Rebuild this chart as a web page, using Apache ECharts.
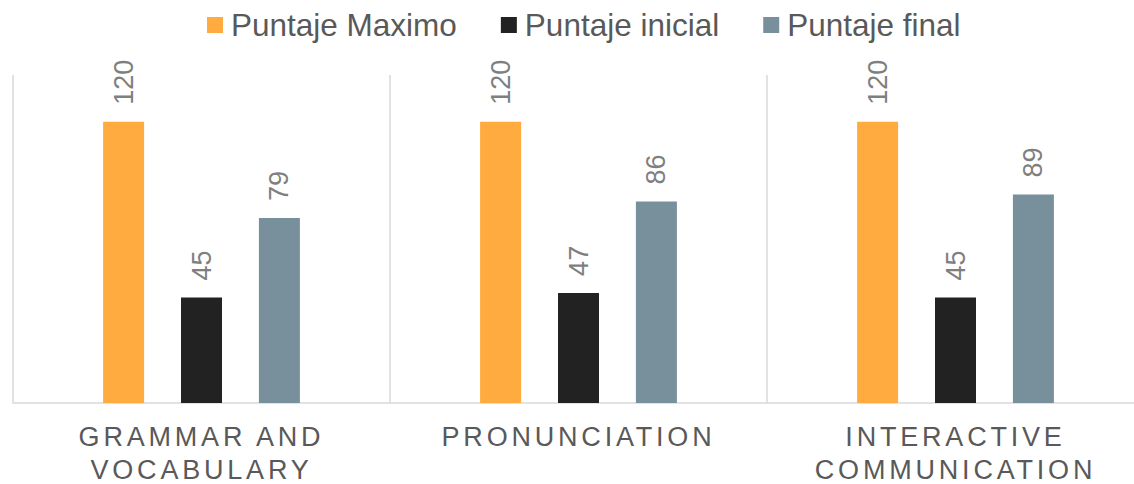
<!DOCTYPE html>
<html><head><meta charset="utf-8">
<script src="https://cdn.jsdelivr.net/npm/echarts@6/dist/echarts.min.js"></script>
<style>html,body{margin:0;padding:0;background:#fff}#c{width:1134px;height:484px}</style>
</head><body><div id="c"></div>
<script>
const categories = ['GRAMMAR AND VOCABULARY', 'PRONUNCIATION', 'INTERACTIVE COMMUNICATION'];
const seriesNames = ['Puntaje Maximo', 'Puntaje inicial', 'Puntaje final'];
const puntajeMaximo = [120, 120, 120];
const puntajeInicial = [45, 47, 45];
const puntajeFinal = [79, 86, 89];
const colors = ['#FFAB40', '#222222', '#78909C'];
const seriesData = [puntajeMaximo, puntajeInicial, puntajeFinal];

const chart = echarts.init(document.getElementById('c'), null, {renderer: 'svg'});
const catLines = [];
categories.forEach(c => c.replace(/ (\S+)$/, '\n$1').split('\n').forEach(l => catLines.push(l)));

chart.setOption({
  animation: false,
  legend: {
    left: 202, top: 4,
    itemWidth: 16, itemHeight: 16, icon: 'rect', itemGap: 44,
    textStyle: {fontSize: 31.5, color: '#595959', fontFamily: 'Liberation Sans', padding: [0, 0, 0, 3]},
    data: seriesNames
  },
  grid: {left: 13, top: 75, bottom: 81, right: -10, containLabel: false, outerBoundsMode: 'none'},
  xAxis: {
    type: 'category', data: categories,
    axisLine: {show: true, lineStyle: {color: '#d9d9d9', width: 1.5}},
    axisTick: {show: false},
    splitLine: {show: true, lineStyle: {color: '#d9d9d9', width: 1.5}},
    axisLabel: {
      margin: 17, fontSize: 27, color: '#595959', fontFamily: 'Liberation Sans', lineHeight: 33,
      formatter: v => v.replace(/ (\S+)$/, '\n$1')
    }
  },
  yAxis: {type: 'value', min: 0, max: 140, show: false, splitLine: {show: false}},
  series: seriesNames.map((n, i) => ({
    name: n, type: 'bar', data: seriesData[i], barWidth: 41, barGap: '90%',
    itemStyle: {color: colors[i]},
    label: {
      show: true, position: 'top', rotate: 90, align: 'left', verticalAlign: 'middle',
      distance: 17, fontSize: 27, color: '#7f7f7f', fontFamily: 'Liberation Sans'
    }
  }))
});

function spaceLabels() {
  document.querySelectorAll('#c svg text').forEach(t => {
    if (catLines.indexOf(t.textContent.trim()) >= 0) t.style.letterSpacing = '3.8px';
  });
}
chart.on('finished', spaceLabels);
spaceLabels();
</script></body></html>
